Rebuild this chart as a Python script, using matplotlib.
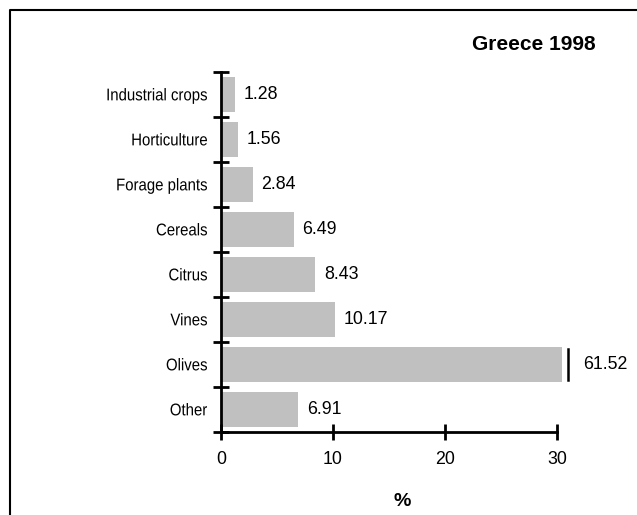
import matplotlib
matplotlib.use("Agg")
import matplotlib.pyplot as plt
from matplotlib.font_manager import FontProperties
from matplotlib.lines import Line2D
from matplotlib.patches import PathPatch
from matplotlib.textpath import TextPath
from matplotlib.transforms import Affine2D, IdentityTransform

# Share of agricultural output, Greece 1998 (%)
categories = ["Industrial crops", "Horticulture", "Forage plants", "Cereals",
              "Citrus", "Vines", "Olives", "Other"]
values = [1.28, 1.56, 2.84, 6.49, 8.43, 10.17, 61.52, 6.91]
x_ticks = [0, 10, 20, 30]
title = "Greece 1998"
x_label = "%"

AXIS_MAX = 30
BREAK_AT = 30.45  # bars longer than the axis are cut here

plain = "Liberation Sans"

W, H = 637, 515
fig = plt.figure(figsize=(W / 100, H / 100), dpi=100)
ax = fig.add_axes([221 / W, (H - 432) / H, (557 - 221) / W, (432 - 72) / H])

n = len(categories)
ypos = [n - 1 - i for i in range(n)]
shown = [min(v, BREAK_AT) for v in values]
ax.barh(ypos, shown, height=0.77, color="#c0c0c0", edgecolor="none",
        clip_on=False, zorder=1)

for y, v, s in zip(ypos, values, shown):
    if v > AXIS_MAX:
        ax.plot([s + 0.5, s + 0.5], [y - 0.35, y + 0.35], color="black",
                lw=1.8, clip_on=False, zorder=3)
        ax.text(s + 1.9, y, f"{v:.2f}", va="center", ha="left",
                fontsize=12.8, family=plain)
    else:
        ax.text(s + 0.75, y, f"{v:.2f}", va="center", ha="left",
                fontsize=12.8, family=plain)

ax.set_xlim(0, AXIS_MAX)
ax.set_ylim(-0.5, n - 0.5)

ax.set_xticks(x_ticks)
ax.set_xticklabels([str(t) for t in x_ticks], family=plain, fontsize=12.8)
ax.tick_params(axis="x", direction="inout", length=12, width=2, pad=8)

# category names in a narrowed face, right-aligned left of the axis
ax.set_yticks(ypos)
ax.set_yticklabels([])
ax.tick_params(axis="y", which="major", length=0)
ax.set_yticks([i - 0.5 for i in range(n + 1)], minor=True)
ax.tick_params(axis="y", which="minor", direction="inout", length=12, width=2)

prop = FontProperties(family=plain)
label_px = 17.0
squeeze = 0.88
cap = TextPath((0, 0), "H", size=label_px, prop=prop).get_extents().height
x_right = ax.transAxes.transform((0, 0))[0] - 14
for y, name in zip(ypos, categories):
    tp = TextPath((0, 0), name, size=label_px, prop=prop)
    ext = tp.get_extents()
    yc = ax.transData.transform((0, y))[1]
    tr = (Affine2D().scale(squeeze, 1.0)
          .translate(x_right - ext.x1 * squeeze, yc - cap / 2))
    fig.add_artist(PathPatch(tp, transform=tr + IdentityTransform(),
                             facecolor="black", edgecolor="none", lw=0))

for side in ("top", "right"):
    ax.spines[side].set_visible(False)
for side in ("left", "bottom"):
    ax.spines[side].set_linewidth(2)

fig.text(596 / W, 1 - 45 / H, title, ha="right", va="center",
         fontsize=15, fontweight="bold", family=plain)
fig.text(402 / W, 1 - 501 / H, x_label, ha="center", va="center",
         fontsize=14, fontweight="bold", family=plain)

# outer frame (top and left edges)
fig.add_artist(Line2D([10 / W, 10 / W, 1], [0, 1 - 10 / H, 1 - 10 / H],
                      transform=fig.transFigure, color="black", lw=1.5))

fig.savefig("out.png", dpi=100)
